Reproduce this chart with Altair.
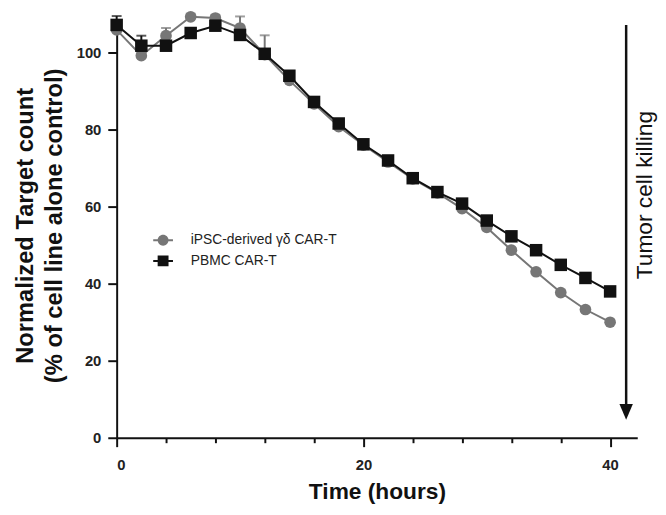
import altair as alt
import pandas as pd

# ---- data ----
hours = [0, 2, 4, 6, 8, 10, 12, 14, 16, 18, 20, 22, 24, 26, 28, 30, 32, 34, 36, 38, 40]
ipsc = [105.9, 99.2, 104.4, 109.3, 109.0, 106.4, 99.5, 92.8, 86.7, 80.8, 76.0,
        71.6, 67.2, 63.6, 59.5, 54.6, 48.7, 43.1, 37.7, 33.3, 30.0]
pbmc = [107.2, 101.8, 101.8, 105.1, 107.0, 104.6, 99.7, 94.0, 87.2, 81.6, 76.2,
        72.0, 67.4, 63.8, 60.8, 56.4, 52.3, 48.7, 44.9, 41.5, 38.0]
ipsc_err = [0.8, 0.8, 2.0, 0.8, 0.8, 3.0, 5.0, 1.2, 0.8, 0.8, 0.8,
            0.6, 0.6, 0.6, 0.6, 0.6, 0.6, 0.6, 0.6, 0.6, 0.6]
pbmc_err = [2.3, 2.6, 0.8, 0.8, 0.8, 0.8, 0.8, 0.8, 0.8, 0.6, 0.6,
            0.6, 0.6, 0.6, 0.6, 0.6, 0.6, 0.6, 0.6, 0.6, 0.6]
series_names = ["iPSC-derived γδ CAR-T", "PBMC CAR-T"]
x_ticks = list(range(0, 43))
y_ticks = [0, 20, 40, 60, 80, 100]

# annotation (arrow + label), in data units
arrow_hour = [41.3]
arrow_top = [107.2]
arrow_end = [8.0]
arrow_head = [6.7]
note_hour = [42.8]
note_value = [63.0]
note_text = ["Tumor cell killing"]

rows = []
for h, v, e in zip(hours, ipsc, ipsc_err):
    rows.append({"hour": h, "value": v, "top": v + e, "series": series_names[0]})
for h, v, e in zip(hours, pbmc, pbmc_err):
    rows.append({"hour": h, "value": v, "top": v + e, "series": series_names[1]})
df = pd.DataFrame(rows)

arrow_df = pd.DataFrame({"hour": arrow_hour, "top": arrow_top, "end": arrow_end, "head": arrow_head})
note_df = pd.DataFrame({"hour": note_hour, "value": note_value, "text": note_text})

FONT = "Liberation Sans"
GRAY = "#767676"
BLACK = "#111111"
order = [series_names[1], series_names[0]]

x_scale = alt.Scale(domain=[0, 42.2], nice=False, zero=False)
y_scale = alt.Scale(domain=[0, 108.5], nice=False)
col_scale = alt.Scale(domain=series_names, range=[GRAY, BLACK])

x_axis = alt.Axis(
    values=x_ticks,
    labelExpr="datum.value % 10 === 0 ? datum.label : ''",
    tickSize={"condition": {"test": "datum.value % 10 === 0", "value": 9}, "value": 5},
    tickWidth=2, domainWidth=2, domainColor=BLACK, tickColor=BLACK,
    labelFont=FONT, labelFontSize=15, labelFontWeight="bold", labelColor="#222",
    labelPadding=11, grid=False,
    title="Time (hours)", titleFont=FONT, titleFontSize=23, titleFontWeight="bold",
    titleColor=BLACK, titleY=61, titleBaseline="alphabetic",
)
y_axis = alt.Axis(
    values=y_ticks, tickSize=9, tickWidth=2, domainWidth=2,
    domainColor=BLACK, tickColor=BLACK,
    labelFont=FONT, labelFontSize=15, labelFontWeight="bold", labelColor="#222",
    labelPadding=7, grid=False,
    title=["Normalized Target count", "(% of cell line alone control)"],
    titleFont=FONT, titleFontSize=24, titleFontWeight="bold", titleColor=BLACK,
    titleX=-80, titleY=208, titleBaseline="bottom", titleLineHeight=29, titleAngle=270,
)

base = alt.Chart(df)
X = alt.X("hour:Q", scale=x_scale, axis=x_axis)
Y = alt.Y("value:Q", scale=y_scale, axis=y_axis)

lines = base.mark_line(strokeWidth=2).encode(
    x=X, y=Y,
    color=alt.Color("series:N", scale=col_scale, legend=None, sort=order),
    detail="series:N",
)
err = base.mark_rule(strokeWidth=2).encode(
    x="hour:Q", y="value:Q", y2="top:Q",
    color=alt.Color("series:N", scale=col_scale, legend=None),
)
caps = base.mark_tick(thickness=2, size=10, orient="horizontal").encode(
    x="hour:Q", y="top:Q",
    color=alt.Color("series:N", scale=col_scale, legend=None),
)
points = base.mark_point(filled=True, opacity=1).encode(
    x="hour:Q", y="value:Q",
    shape=alt.Shape("series:N", scale=alt.Scale(domain=series_names, range=["circle", "square"]), legend=None),
    color=alt.Color("series:N", scale=col_scale, legend=None),
    size=alt.Size("series:N", scale=alt.Scale(domain=series_names, range=[140, 160]), legend=None),
    order=alt.Order("series:N", sort="descending"),
)

circle_tab = "M-1,-0.1H1V0.1H-1Z M0.55,0A0.55,0.55 0 1,1 -0.55,0A0.55,0.55 0 1,1 0.55,0Z"
square_tab = "M-1,-0.1H1V0.1H-1Z M-0.55,-0.55H0.55V0.55H-0.55Z"
legend = alt.Legend(
    title=None, orient="none", legendX=37, legendY=213, padding=0,
    symbolSize=400, symbolStrokeWidth=0, symbolOpacity=1, rowPadding=4,
    labelFont=FONT, labelFontSize=14, labelColor="#222", labelOffset=18,
)
legend_layer = base.mark_point(filled=True, opacity=0).encode(
    x="hour:Q", y="value:Q",
    shape=alt.Shape("series:N", scale=alt.Scale(domain=series_names, range=[circle_tab, square_tab]), legend=legend),
    color=alt.Color("series:N", scale=col_scale, legend=legend),
)

arrow_line = alt.Chart(arrow_df).mark_rule(strokeWidth=2.5, color=BLACK).encode(
    x="hour:Q", y="top:Q", y2="end:Q"
)
arrow_tip = alt.Chart(arrow_df).mark_point(
    shape="M-0.85,-1L0.85,-1L0,1Z", filled=True, opacity=1, color=BLACK, size=256
).encode(x="hour:Q", y="head:Q")
note = alt.Chart(note_df).mark_text(
    angle=270, align="center", baseline="middle", font=FONT, fontSize=23, color=BLACK
).encode(x="hour:Q", y="value:Q", text="text:N")

chart = alt.layer(
    lines, err, caps, points, legend_layer, arrow_line, arrow_tip, note
).resolve_scale(
    color="independent", shape="independent", size="independent"
).properties(
    width=527, height=423,
    autosize=alt.AutoSizeParams(type="none"),
    padding={"left": 110, "top": 9, "right": 21, "bottom": 64},
    background="white",
).configure_view(stroke=None)

chart.save("out.html", embed_options={"renderer": "svg", "actions": False})
